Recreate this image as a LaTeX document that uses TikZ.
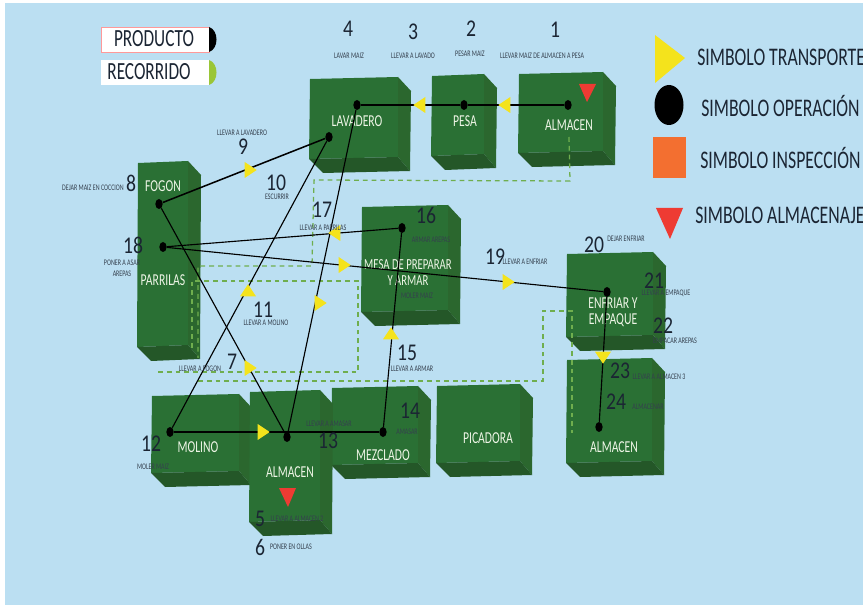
\documentclass[tikz,border=0pt]{standalone}
\usepackage{fontspec}
\setmainfont{Carlito}
\newfontfamily\condfont{Carlito}[FakeStretch=0.70]
\newfontfamily\numfont{Carlito}[FakeStretch=0.82]
\usetikzlibrary{shapes.geometric}
\definecolor{PlanoFondo}{HTML}{BBDFF2}
\definecolor{CajaFrente}{HTML}{2A7034}
\definecolor{CajaLado}{HTML}{2B672E}
\definecolor{CajaBase}{HTML}{245728}
\definecolor{RutaVerde}{HTML}{6FAE4E}
\definecolor{SimboloAmarillo}{HTML}{F4E31C}
\definecolor{SimboloRojo}{HTML}{EE3B33}
\definecolor{SimboloNaranja}{HTML}{F36F30}
\definecolor{TextoOscuro}{HTML}{1B2533}
\definecolor{TextoGris}{HTML}{35404E}
\definecolor{TextoCaja}{HTML}{EEF5E6}
\newcommand{\caja}[4]{%
    \begin{scope}[shift={(#1,#2)}]
        \fill[CajaFrente] (0,0) -- (#3,-2) -- (#3,{#4-2}) -- (-1,#4) -- cycle;
        \fill[CajaLado] (#3,-2) -- ({#3+13},12) -- ({#3+12},{#4+12}) -- (#3,{#4-2}) -- cycle;
        \fill[CajaBase] (-1,#4) -- (#3,{#4-2}) -- ({#3+12},{#4+12}) -- (13,{#4+14}) -- cycle;
    \end{scope}}
\tikzset{
    opdot/.style={ellipse, fill=black, inner sep=0pt, minimum width=7.5pt, minimum height=5.5pt, rotate=90},
    flecha/.style={isosceles triangle, isosceles triangle apex angle=70, isosceles triangle stretches, fill=SimboloAmarillo, inner sep=0pt, minimum height=9pt, minimum width=12pt},
    ruta/.style={RutaVerde, line width=.95pt, dash pattern=on 3.6pt off 3pt},
    linea/.style={black, line width=.85pt},
    lineagruesa/.style={black, line width=1.15pt},
    cajatxt/.style={TextoCaja, font=\condfont\fontsize{12.5}{13}\selectfont},
    mesatxt/.style={TextoCaja, font=\condfont\fontsize{11.5}{13}\selectfont},
    numero/.style={TextoOscuro, inner sep=0pt, font=\numfont\fontsize{18}{18}\selectfont},
    nota/.style={TextoGris, inner sep=0pt, font=\condfont\fontsize{6.4}{7}\selectfont},
    leyenda/.style={TextoOscuro, anchor=west, inner sep=0pt, font=\condfont\fontsize{19}{20}\selectfont},
    cinta/.style={TextoOscuro, inner sep=0pt, font=\condfont\fontsize{18.5}{19}\selectfont}
}
\begin{document}
\begin{tikzpicture}[x=.75pt,y=-.75pt]
    \useasboundingbox (0,0) rectangle (863,605);
    \clip (0,0) rectangle (863,605);

    % ========== FONDO ==========
    \fill[white] (0,0) rectangle (863,605);
    \fill[PlanoFondo] (5,3) rectangle (863,605);

    % ========== CAJAS ==========
    \caja{310}{79}{88}{80}
    \caja{432}{76}{52}{80}
    \caja{519}{74}{84}{79}
    \caja{138}{163}{50}{184}
    \caja{362}{207}{86}{105}
    \caja{567}{254}{86}{83}
    \caja{567}{360}{85}{103}
    \caja{152}{396}{87}{77}
    \caja{332}{388}{86}{77}
    \caja{250}{392}{70}{130}
    \caja{437}{386}{83}{77}

    % Recorrido punteado
    \draw[ruta] (569,137) -- (570,181) -- (314,180) -- (312,266) -- (198,266) -- (198,358);
    \draw[ruta] (158,372) -- (358,372) -- (358,281) -- (192,281) -- (192,352);
    \draw[ruta] (198,381) -- (543,381) -- (543,311) -- (572,311) -- (572,433);

    % Nombres de las cajas
    \node[cajatxt] (lavaderotxt) at (357,121) {LAVADERO};
    \node[cajatxt] (pesatxt) at (465,121) {PESA};
    \node[cajatxt] (almacenatxt) at (569,125) {ALMACEN};
    \node[cajatxt] (fogontxt) at (163,186) {FOGON};
    \node[cajatxt] (parrilastxt) at (163,280) {PARRILAS};
    \node[mesatxt, align=center] (mesatxt) at (408,273) {MESA DE PREPARAR\\[-1pt]Y ARMAR};
    \node[cajatxt, align=center] (enfriartxt) at (613,312) {ENFRIAR Y\\[-1pt]EMPAQUE};
    \node[cajatxt] (almacenctxt) at (614,447) {ALMACEN};
    \node[cajatxt] (molinotxt) at (198,447) {MOLINO};
    \node[cajatxt] (almacenbtxt) at (290,472) {ALMACEN};
    \node[cajatxt] (mezcladotxt) at (383,455) {MEZCLADO};
    \node[cajatxt] (picadoratxt) at (488,438) {PICADORA};

    % ========== RECORRIDO ==========
    \node[opdot] (almacena) at (568,105) {};
    \node[opdot] (pesa) at (464,105) {};
    \node[opdot] (lavadero) at (357,105) {};
    \node[opdot] (escurrir) at (329,137) {};
    \node[opdot] (fogon) at (159,204) {};
    \node[opdot] (parrilas) at (163,247) {};
    \node[opdot] (mesa) at (402,228) {};
    \node[opdot] (enfriar) at (607,292) {};
    \node[opdot] (almacenc) at (599,427) {};
    \node[opdot] (molino) at (170,432) {};
    \node[opdot] (almacenb) at (287,437) {};
    \node[opdot] (mezclado) at (383,432) {};

    \draw[lineagruesa] (almacena) -- (pesa);
    \draw[lineagruesa] (pesa) -- (lavadero);
    \draw[linea] (lavadero) -- (almacenb);
    \draw[lineagruesa] (escurrir) -- (fogon);
    \draw[linea] (escurrir) -- (molino);
    \draw[linea] (fogon) -- (almacenb);
    \draw[linea] (parrilas) -- (mesa);
    \draw[linea] (parrilas) -- (enfriar);
    \draw[lineagruesa] (molino) -- (mezclado);
    \draw[linea] (mezclado) -- (mesa);
    \draw[linea] (enfriar) -- (almacenc);

    % Flechas amarillas
    \node[flecha, shape border rotate=180] (f1) at (506,105) {};
    \node[flecha, shape border rotate=180] (f3) at (421,105) {};
    \node[flecha, shape border rotate=-20] (f9) at (249,170) {};
    \node[flecha, shape border rotate=60] (f11) at (248,292) {};
    \node[flecha, shape border rotate=-10] (f7) at (249,368) {};
    \node[flecha, shape border rotate=170] (f17) at (336,233) {};
    \node[flecha] (f18) at (343,265) {};
    \node[flecha, shape border rotate=-5] (f19) at (507,282) {};
    \node[flecha] (f10) at (319,303) {};
    \node[flecha] (f12) at (262,432) {};
    \node[flecha, shape border rotate=90] (f15) at (391,335) {};
    \node[flecha, shape border rotate=-90] (f23) at (603,356) {};

    % Triangulos de almacen
    \fill[SimboloRojo] (579,84) -- (596,84) -- (587,102) -- cycle;
    \fill[SimboloRojo] (279,488) -- (296,488) -- (288,507) -- cycle;

    % ========== NUMEROS Y NOTAS ==========
    \node[numero] (n1) at (555,30) {1};
    \node[numero] (n2) at (471,29) {2};
    \node[numero] (n3) at (413,32) {3};
    \node[numero] (n4) at (348,29) {4};
    \node[numero] (n5) at (260,519) {5};
    \node[numero] (n6) at (260,547) {6};
    \node[numero] (n7) at (232,362) {7};
    \node[numero] (n8) at (131,183) {8};
    \node[numero] (n9) at (243,147) {9};
    \node[numero] (n10) at (276,183) {10};
    \node[numero] (n11) at (263,310) {11};
    \node[numero] (n12) at (151,444) {12};
    \node[numero] (n13) at (328,441) {13};
    \node[numero] (n14) at (410,411) {14};
    \node[numero] (n15) at (407,353) {15};
    \node[numero] (n16) at (426,215) {16};
    \node[numero] (n17) at (322,210) {17};
    \node[numero] (n18) at (133,245) {18};
    \node[numero] (n19) at (495,257) {19};
    \node[numero] (n20) at (594,245) {20};
    \node[numero] (n21) at (654,281) {21};
    \node[numero] (n22) at (663,326) {22};
    \node[numero] (n23) at (620,371) {23};
    \node[numero] (n24) at (616,402) {24};

    \node[nota] (t1) at (542,56) {LLEVAR MAIZ DE ALMACEN A PESA};
    \node[nota] (t2) at (470,54) {PESAR MAIZ};
    \node[nota] (t3) at (413,56) {LLEVAR A LAVADO};
    \node[nota] (t4) at (349,56) {LAVAR MAIZ};
    \node[nota] (t5) at (297,519) {LLEVAR A ALMACEN 2};
    \node[nota] (t6) at (291,547) {PONER EN OLLAS};
    \node[nota] (t7) at (200,369) {LLEVAR A FOGON};
    \node[nota] (t8) at (93,188) {DEJAR MAIZ EN COCCION};
    \node[nota] (t9) at (242,133) {LLEVAR A LAVADERO};
    \node[nota] (t10) at (277,197) {ESCURRIR};
    \node[nota] (t11) at (266,323) {LLEVAR A MOLINO};
    \node[nota] (t12) at (153,467) {MOLER MAIZ};
    \node[nota] (t13) at (329,424) {LLEVAR A AMASAR};
    \node[nota] (t14) at (407,432) {AMASAR};
    \node[nota] (t15) at (412,369) {LLEVAR A ARMAR};
    \node[nota] (t16) at (431,240) {ARMAR AREPAS};
    \node[nota] (t16b) at (417,296) {MOLER MAIZ};
    \node[nota] (t17) at (323,228) {LLEVAR A PARRILAS};
    \node[nota, align=center] (t18) at (122,268) {PONER A ASAR\\[1pt]AREPAS};
    \node[nota] (t19) at (525,262) {LLEVAR A ENFRIAR};
    \node[nota] (t20) at (626,239) {DEJAR ENFRIAR};
    \node[nota] (t21) at (666,293) {LLEVAR A EMPAQUE};
    \node[nota] (t22) at (675,341) {EMPACAR AREPAS};
    \node[nota] (t23) at (659,377) {LLEVAR A ALMACEN 3};
    \node[nota] (t24) at (648,407) {ALMACENAR};

    % ========== LEYENDA IZQUIERDA ==========
    \draw[white, fill=white] (101,27) rectangle (209,52);
    \draw[red!40, line width=.4pt] (101,27) rectangle (209,52);
    \fill[black] (209,27) .. controls (219,30) and (219,49) .. (209,52) -- cycle;
    \node[cinta] (producto) at (154,39) {PRODUCTO};
    \fill[white] (101,60) rectangle (209,85);
    \fill[RutaVerde!70!yellow] (209,60) .. controls (219,63) and (219,82) .. (209,85) -- cycle;
    \node[cinta] (recorrido) at (149,72) {RECORRIDO};

    % ========== LEYENDA DERECHA ==========
    \fill[SimboloAmarillo] (655,35) -- (685,58) -- (655,83) -- cycle;
    \fill[black] (669,105) ellipse (14.5 and 20);
    \fill[SimboloNaranja] (653,137) rectangle (686,178);
    \fill[SimboloRojo] (656,208) -- (683,208) -- (670,239) -- cycle;
    \node[leyenda] (transporte) at (697,57) {SIMBOLO TRANSPORTE};
    \node[leyenda] (operacion) at (701,106) {SIMBOLO OPERACIÓN};
    \node[leyenda] (inspeccion) at (700,158) {SIMBOLO INSPECCIÓN};
    \node[leyenda] (almacenaje) at (695,215) {SIMBOLO ALMACENAJE};

\end{tikzpicture}
\end{document}
